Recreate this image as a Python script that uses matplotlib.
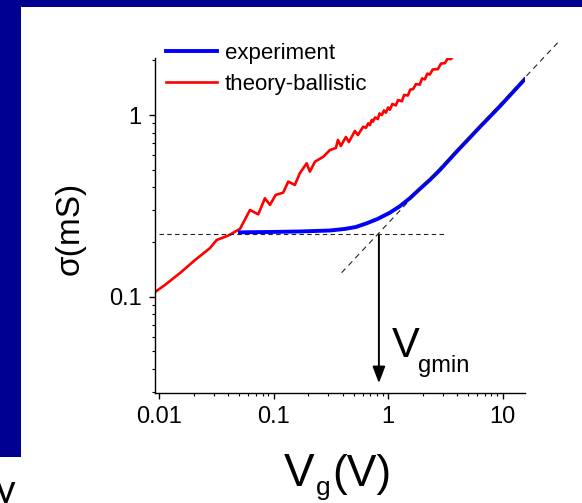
import matplotlib
matplotlib.use('Agg')
import matplotlib.pyplot as plt
from matplotlib.patches import Rectangle
from matplotlib.ticker import LogLocator, NullFormatter

plt.rcParams['font.family'] = ['Liberation Sans', 'DejaVu Sans']

# theory-ballistic curve
theory_vg = [0.00917, 0.0112, 0.0152, 0.0205, 0.0277, 0.0317, 0.0401, 0.0507, 0.062, 0.0732,
             0.0838, 0.0927, 0.104, 0.121, 0.134, 0.153, 0.169, 0.194, 0.207, 0.229,
             0.271, 0.31, 0.349, 0.364, 0.386, 0.427, 0.454, 0.512, 0.544, 0.605,
             0.64, 0.67, 0.692, 0.72, 0.735, 0.77, 0.813, 0.84, 0.881, 0.92,
             0.955, 1.0, 1.035, 1.09, 1.167, 1.22, 1.318, 1.38, 1.486, 1.56,
             1.653, 1.75, 1.89, 1.98, 2.09, 2.2, 2.31, 2.45, 2.72, 2.9,
             3.13, 3.3, 3.53, 3.8, 4.23]
theory_sigma = [0.106, 0.116, 0.135, 0.159, 0.185, 0.205, 0.217, 0.236, 0.300, 0.284,
                0.348, 0.320, 0.363, 0.374, 0.430, 0.412, 0.478, 0.542, 0.488, 0.553,
                0.589, 0.642, 0.658, 0.729, 0.675, 0.757, 0.710, 0.817, 0.776, 0.862,
                0.85, 0.90, 0.88, 0.94, 0.92, 0.97, 0.95, 1.02, 1.00, 1.06,
                1.03, 1.10, 1.07, 1.15, 1.13, 1.21, 1.19, 1.29, 1.28, 1.38,
                1.39, 1.48, 1.47, 1.59, 1.57, 1.69, 1.67, 1.78, 1.79, 1.92,
                1.93, 2.04, 2.03, 2.15, 2.22]

# experiment curve
exp_vg = [0.0507, 0.0927, 0.169, 0.31, 0.418, 0.522, 0.65, 0.81, 1.035, 1.26,
          1.545, 1.89, 2.31, 2.83, 3.96, 6.32, 9.45, 15.6]
exp_sigma = [0.226, 0.227, 0.2285, 0.2313, 0.236, 0.2418, 0.2535, 0.268, 0.290, 0.314,
             0.348, 0.3915, 0.439, 0.498, 0.628, 0.858, 1.115, 1.572]

# guide lines and the Vgmin arrow
sigma_min = 0.22
hline_vg = [0.0099, 3.13]
diag_vg = [0.392, 30.3]
diag_sigma = [0.1355, 2.5]
vgmin = 0.83
arrow_bottom = 0.0334

x_ticks = [0.01, 0.1, 1, 10]
x_ticklabels = ['0.01', '0.1', '1', '10']
y_ticks = [0.1, 1]
y_ticklabels = ['0.1', '1']

W, H = 582, 503
navy = '#000091'

fig = plt.figure(figsize=(W / 100, H / 100), dpi=100)
fig.patch.set_facecolor('white')
fig.patches.append(Rectangle((0, 1 - 6.7 / H), 1, 6.7 / H, transform=fig.transFigure,
                             facecolor=navy, edgecolor='none'))
fig.patches.append(Rectangle((0, 1 - 457 / H), 21 / W, 457 / H, transform=fig.transFigure,
                             facecolor=navy, edgecolor='none'))

ax = fig.add_axes([155 / W, 1 - 392.7 / H, (525 - 155) / W, (392.7 - 58) / H])
ax.set_xscale('log')
ax.set_yscale('log')

ax.plot(exp_vg, exp_sigma, color='#0000ff', lw=2.8, label='experiment', zorder=3)
ax.plot(theory_vg, theory_sigma, color='#ff0000', lw=1.9, label='theory-ballistic', zorder=2)

ax.plot(hline_vg, [sigma_min, sigma_min], color='#222222', lw=0.8, ls=(0, (4, 3)), zorder=4)
ax.plot(diag_vg, diag_sigma, color='#222222', lw=0.8, ls=(0, (5, 4)), zorder=4, clip_on=False)

ax.annotate('', xy=(vgmin, arrow_bottom), xytext=(vgmin, sigma_min),
            arrowprops=dict(arrowstyle='-|>,head_length=0.5,head_width=0.19',
                            mutation_scale=20, lw=1.4, color='black',
                            shrinkA=0, shrinkB=0))

ax.set_xlim(0.00917, 15.7)
ax.set_ylim(0.0296, 2.06)

for side in ['top', 'right']:
    ax.spines[side].set_visible(False)
for side in ['left', 'bottom']:
    ax.spines[side].set_linewidth(1.0)

ax.set_xticks(x_ticks)
ax.set_xticklabels(x_ticklabels)
ax.set_yticks(y_ticks)
ax.set_yticklabels(y_ticklabels)
ax.xaxis.set_minor_locator(LogLocator(base=10, subs=range(2, 10)))
ax.yaxis.set_minor_locator(LogLocator(base=10, subs=range(2, 10)))
ax.xaxis.set_minor_formatter(NullFormatter())
ax.yaxis.set_minor_formatter(NullFormatter())
ax.tick_params(which='major', direction='out', length=4.5, width=1.0, labelsize=17, pad=5)
ax.tick_params(which='minor', direction='out', length=2.5, width=0.8)

leg = ax.legend(loc='upper left', bbox_to_anchor=(166 / W, 1 - 43 / H),
                bbox_transform=fig.transFigure, frameon=False, fontsize=16,
                handlelength=2.3, handletextpad=0.35, labelspacing=0.45, borderpad=0,
                borderaxespad=0)

# axis labels placed like the original
fig.text(70 / W, 1 - 228 / H, 'σ(mS)', rotation=90, ha='center', va='center', fontsize=24)
fig.text(284 / W, 1 - 486 / H, 'V', fontsize=33, va='baseline')
fig.text(316 / W, 1 - 495 / H, 'g', fontsize=19, va='baseline')
fig.text(332 / W, 1 - 486 / H, '(V)', fontsize=32, va='baseline')

fig.text(392 / W, 1 - 357 / H, 'V', fontsize=30, va='baseline')
fig.text(418 / W, 1 - 372 / H, 'gmin', fontsize=17, va='baseline')

# cut-off letter at the lower left edge
fig.text(-4 / W, 1 - 503 / H, 'y', fontsize=28, va='baseline')

fig.savefig('out.png', dpi=100, facecolor=fig.get_facecolor())
